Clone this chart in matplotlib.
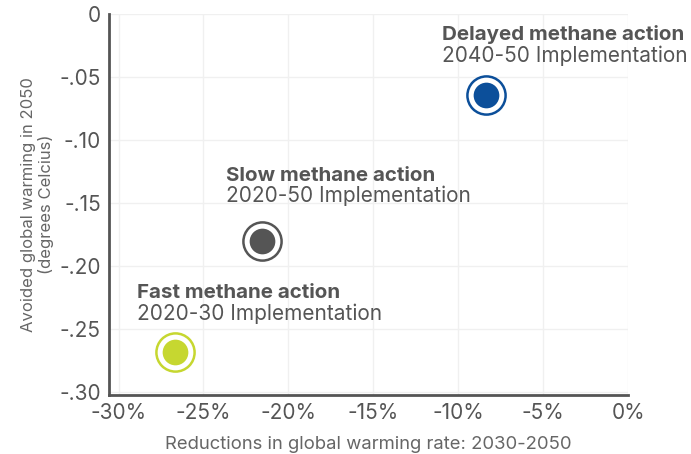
import matplotlib.pyplot as plt
from matplotlib.ticker import FuncFormatter

plt.rcParams['font.family'] = ['Inter', 'DejaVu Sans']

scenarios = ["Fast methane action", "Slow methane action", "Delayed methane action"]
periods = ["2020-30 Implementation", "2020-50 Implementation", "2040-50 Implementation"]
rate_reduction = [-26.7, -21.55, -8.35]
avoided_warming = [-0.268, -0.180, -0.0645]
colors = ["#c6d730", "#555555", "#0c4f9a"]
ring_colors = ["#c6d730", "#555555", "#0c4f9a"]
# label offsets in pixels (left edge, title baseline, subtitle baseline)
label_offsets = [(-38, 54, 32), (-36, 60, 39), (-44, 55, 33)]

fig = plt.figure(figsize=(6.91, 4.54), dpi=100)
ax = fig.add_axes([0.158, 0.13, 0.751, 0.839])

for x, y, c, rc in zip(rate_reduction, avoided_warming, colors, ring_colors):
    ax.plot(x, y, "o", ms=27.5, mfc="white", mec=rc, mew=1.8, zorder=3)
    ax.plot(x, y, "o", ms=18.5, mfc=c, mec=c, mew=0, zorder=4)

for x, y, name, per, off in zip(rate_reduction, avoided_warming, scenarios, periods, label_offsets):
    ax.annotate(name, (x, y), xytext=(off[0], off[1]), textcoords="offset pixels",
                fontsize=14.8, fontweight="bold", color="#555555", ha="left", va="baseline")
    ax.annotate(per, (x, y), xytext=(off[0], off[2]), textcoords="offset pixels",
                fontsize=15, color="#555555", ha="left", va="baseline")

ax.set_xlim(-30.55, 0)
ax.set_ylim(-0.302, 0)
ax.set_xticks([-30, -25, -20, -15, -10, -5, 0])
ax.set_yticks([0, -0.05, -0.10, -0.15, -0.20, -0.25, -0.30])
ax.xaxis.set_major_formatter(FuncFormatter(lambda v, p: f"{v:.0f}%"))
ax.yaxis.set_major_formatter(FuncFormatter(lambda v, p: "0" if v == 0 else f"{v:.2f}".replace("0.", ".")))

ax.grid(True, color="#f0f0f0", lw=1)
ax.set_axisbelow(True)
for s in ["top", "right"]:
    ax.spines[s].set_visible(False)
for s in ["left", "bottom"]:
    ax.spines[s].set_color("#555555")
    ax.spines[s].set_linewidth(2)
ax.tick_params(length=0, pad=6, labelsize=15, colors="#555555")

ax.set_xlabel("Reductions in global warming rate: 2030-2050", fontsize=13.3, color="#666666", labelpad=9)
ax.set_ylabel("Avoided global warming in 2050\n(degrees Celcius)", fontsize=12, color="#666666",
              labelpad=4, linespacing=1.1)

fig.savefig("out.png", dpi=100)
